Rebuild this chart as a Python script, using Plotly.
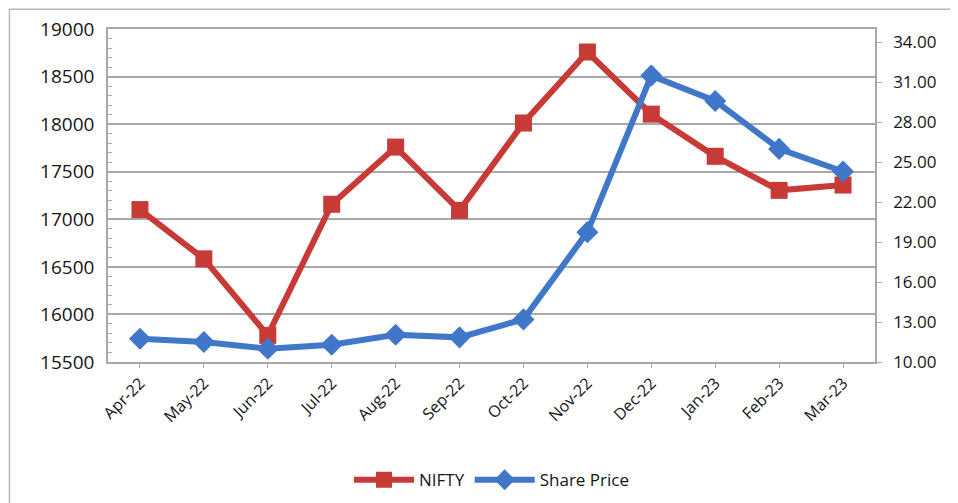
import plotly.graph_objects as go

# ==========================================
# DATA
# ==========================================

months = ["Apr-22", "May-22", "Jun-22", "Jul-22", "Aug-22", "Sep-22",
          "Oct-22", "Nov-22", "Dec-22", "Jan-23", "Feb-23", "Mar-23"]

nifty = [17102, 16584, 15780, 17158, 17759, 17094,
         18012, 18758, 18105, 17662, 17304, 17360]

share_price = [11.75, 11.5, 11.0, 11.3, 12.05, 11.85,
               13.2, 19.75, 31.5, 29.6, 26.0, 24.3]

left_ticks = [15500, 16000, 16500, 17000, 17500, 18000, 18500, 19000]
right_ticks = [10, 13, 16, 19, 22, 25, 28, 31, 34]

red = "#C73A36"
blue = "#4077C9"

# ==========================================
# FIGURE
# ==========================================

fig = go.Figure()

fig.add_trace(
    go.Scatter(
        x=months,
        y=nifty,
        mode="lines+markers",
        line=dict(color=red, width=6),
        marker=dict(symbol="square", size=17, color=red),
        name="NIFTY",
        yaxis="y"
    )
)

fig.add_trace(
    go.Scatter(
        x=months,
        y=share_price,
        mode="lines+markers",
        line=dict(color=blue, width=6),
        marker=dict(symbol="diamond", size=17, color=blue),
        name="Share Price",
        yaxis="y2"
    )
)

# outer chart frame (right edge runs off the page, as in the source)
fig.add_shape(
    type="rect", xref="paper", yref="paper",
    x0=-0.1285, x1=1.2, y0=-0.47, y1=1.059,
    line=dict(color="#B8B8B8", width=1.5), layer="below"
)

fig.update_layout(
    width=958,
    height=503,
    margin=dict(l=100, r=91, t=21, b=149),
    paper_bgcolor="white",
    plot_bgcolor="white",
    font=dict(family="Open Sans", size=16, color="#151515"),
    showlegend=True,
    legend=dict(
        orientation="h",
        x=0.5, xanchor="center",
        y=-0.355, yanchor="middle",
        font=dict(size=17),
        itemwidth=60
    ),
    xaxis=dict(
        automargin=False,
        tickangle=-45,
        showgrid=False,
        showline=True,
        linecolor="#A8A8A8",
        linewidth=1.5,
        ticks="outside",
        ticklen=4,
        tickcolor="#A8A8A8",
        tickfont=dict(size=16),
        mirror=True,
        range=[-0.5, 11.5]
    ),
    yaxis=dict(
        automargin=False,
        range=[15500, 19000],
        tickvals=left_ticks,
        tickformat="d",
        showgrid=True,
        gridcolor="#A9A9A9",
        gridwidth=1.5,
        showline=True,
        linecolor="#A8A8A8",
        linewidth=1.5,
        ticks="inside",
        ticklen=5,
        tickcolor="#A8A8A8",
        minor=dict(dtick=100, ticks="inside", ticklen=4,
                   tickcolor="#A8A8A8", showgrid=False),
        tickfont=dict(size=19),
        ticklabelstandoff=8,
        zeroline=False
    ),
    yaxis2=dict(
        automargin=False,
        overlaying="y",
        side="right",
        range=[10, 35],
        tickvals=right_ticks,
        tickformat=".2f",
        showgrid=False,
        showline=True,
        linecolor="#A8A8A8",
        linewidth=1.5,
        ticks="outside",
        ticklen=5,
        tickcolor="#A8A8A8",
        tickfont=dict(size=17),
        ticklabelstandoff=8,
        zeroline=False
    )
)

fig.write_html("out.html")
